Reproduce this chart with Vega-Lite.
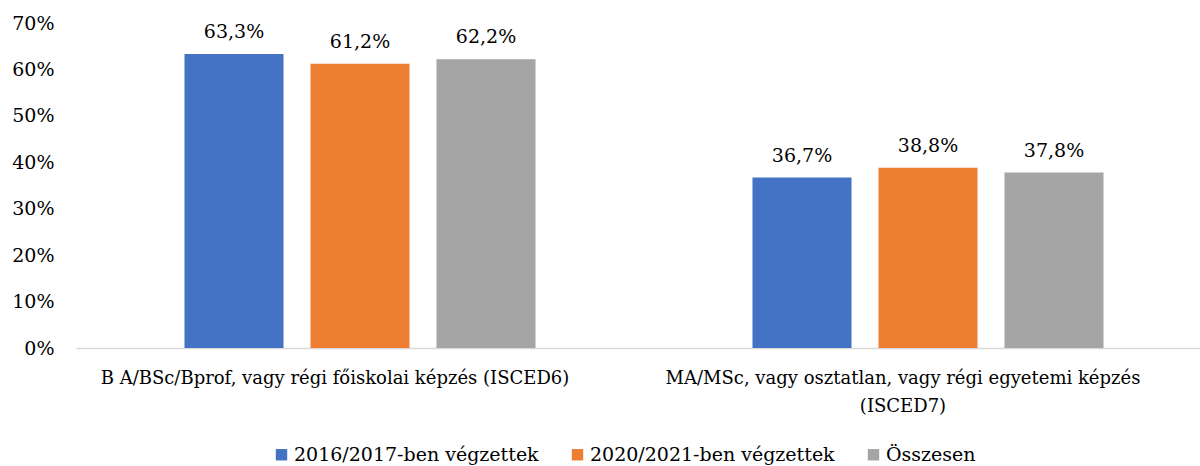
{
  "$schema": "https://vega.github.io/schema/vega-lite/v6.json",
  "autosize": "none",
  "width": 1121,
  "height": 325,
  "padding": {"left": 76, "top": 23, "right": 3, "bottom": 118},
  "background": "white",
  "config": {
    "view": {"stroke": null},
    "font": "DejaVu Serif",
    "locale": {"number": {"decimal": ",", "thousands": " ", "grouping": [3], "currency": ["", " Ft"]}}
  },
  "data": {
    "values": [
      {"kepzes": "B A/BSc/Bprof, vagy régi főiskolai képzés (ISCED6)", "csoport": "2016/2017-ben végzettek", "arany": 0.633},
      {"kepzes": "B A/BSc/Bprof, vagy régi főiskolai képzés (ISCED6)", "csoport": "2020/2021-ben végzettek", "arany": 0.612},
      {"kepzes": "B A/BSc/Bprof, vagy régi főiskolai képzés (ISCED6)", "csoport": "Összesen", "arany": 0.622},
      {"kepzes": "MA/MSc, vagy osztatlan, vagy régi egyetemi képzés (ISCED7)", "csoport": "2016/2017-ben végzettek", "arany": 0.367},
      {"kepzes": "MA/MSc, vagy osztatlan, vagy régi egyetemi képzés (ISCED7)", "csoport": "2020/2021-ben végzettek", "arany": 0.388},
      {"kepzes": "MA/MSc, vagy osztatlan, vagy régi egyetemi képzés (ISCED7)", "csoport": "Összesen", "arany": 0.378}
    ]
  },
  "encoding": {
    "x": {
      "field": "kepzes", "type": "nominal", "title": null,
      "scale": {"paddingInner": 0, "paddingOuter": 0, "range": [0, 1136]},
      "axis": {
        "labelAngle": 0, "ticks": false, "domainColor": "#d9d9d9", "domainWidth": 1.5,
        "labelFontSize": 18, "labelColor": "#000000", "labelPadding": 21, "labelLimit": 0,
        "labelLineHeight": 28, "labelOffset": -25,
        "labelExpr": "indexof(datum.label, 'ISCED7') >= 0 ? ['MA/MSc, vagy osztatlan, vagy régi egyetemi képzés', '(ISCED7)'] : datum.label"
      }
    },
    "xOffset": {
      "field": "csoport", "type": "nominal",
      "scale": {"paddingInner": 0.214, "paddingOuter": 0.861}
    },
    "y": {
      "field": "arany", "type": "quantitative", "title": null,
      "scale": {"domain": [0, 0.7]},
      "axis": {
        "format": ".0%", "values": [0, 0.1, 0.2, 0.3, 0.4, 0.5, 0.6, 0.7],
        "grid": false, "domain": false, "ticks": false,
        "labelFontSize": 19, "labelColor": "#000000", "labelPadding": 22
      }
    }
  },
  "layer": [
    {
      "mark": {"type": "bar"},
      "encoding": {
        "color": {
          "field": "csoport", "type": "nominal",
          "scale": {"domain": ["2016/2017-ben végzettek", "2020/2021-ben végzettek", "Összesen"], "range": ["#4472C4", "#ED7D31", "#A5A5A5"]},
          "legend": {
            "title": null, "orient": "none", "direction": "horizontal",
            "legendX": 196, "legendY": 422,
            "symbolType": "square", "symbolSize": 130, "symbolStrokeWidth": 0, "symbolOpacity": 1,
            "labelFontSize": 19, "labelColor": "#000000", "labelOffset": 3,
            "columnPadding": 29, "labelLimit": 0
          }
        }
      }
    },
    {
      "mark": {"type": "text", "baseline": "alphabetic", "dy": -16, "fontSize": 19, "color": "#000000"},
      "encoding": {
        "text": {"field": "arany", "type": "quantitative", "format": ".1%"}
      }
    }
  ]
}
